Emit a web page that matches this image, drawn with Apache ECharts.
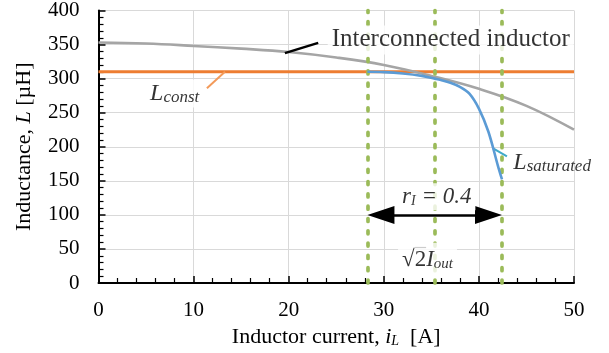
<!DOCTYPE html>
<html>
<head>
<meta charset="utf-8">
<script src="https://cdn.jsdelivr.net/npm/echarts@6/dist/echarts.min.js"></script>
<style>html,body{margin:0;padding:0;background:#fff}#c{width:609px;height:353px}</style>
</head>
<body>
<div id="c"></div>
<script>
// ---- data ----
const constCurrents = [0, 50];
const constInductance = [310, 310];
const interCurrents = [0, 5, 10, 15, 20, 25, 30, 35, 40, 45, 50];
const interInductance = [353, 351.5, 348, 344, 339, 331, 320, 304, 285, 260, 225];
const satCurrents = [28.28, 30, 32, 34, 35.36, 36, 37, 38, 39, 40, 41, 42, 42.43];
const satInductance = [310, 309.5, 307.5, 304, 300, 298, 294, 288, 278, 256, 222, 172, 152];
const rippleBounds = [28.28, 35.36, 42.43];   // (1-0.2)*sqrt2*Iout, sqrt2*Iout, (1+0.2)*sqrt2*Iout
const arrowLevel = 100;
const xTicks = [0, 10, 20, 30, 40, 50];
const yTicks = [0, 50, 100, 150, 200, 250, 300, 350, 400];
const xTitle = 'Inductor current, {i|i}{s|L}  [A]';
const yTitle = 'Inductance, {i|L} [µH]';

const FONT = '"Liberation Serif", "Times New Roman", serif';
const chart = echarts.init(document.getElementById('c'), null, {renderer: 'canvas'});

const zip = (a, b) => a.map((v, i) => [v, b[i]]);

const option = {
  animation: false,
  backgroundColor: '#fff',
  grid: {left: 98.5, right: 35, top: 10.5, bottom: 70, containLabel: false, outerBoundsMode: 'none'},
  xAxis: {
    type: 'value', min: xTicks[0], max: xTicks[xTicks.length - 1], interval: 10,
    name: xTitle, nameLocation: 'middle', nameGap: 40,
    nameTextStyle: {fontFamily: FONT, fontSize: 22, color: '#000',
      rich: {i: {fontFamily: FONT, fontSize: 22, fontStyle: 'italic', color: '#000'},
             s: {fontFamily: FONT, fontSize: 14, fontStyle: 'italic', color: '#000', verticalAlign: 'bottom', lineHeight: 12}}},
    axisLine: {show: true, lineStyle: {color: '#000', width: 2}},
    axisTick: {show: true, inside: true, length: 7, lineStyle: {color: '#000', width: 1.5}},
    minorTick: {show: true, splitNumber: 5, length: 5, lineStyle: {color: '#000', width: 1.2}},
    axisLabel: {fontFamily: FONT, fontSize: 21, color: '#000', margin: 17},
    splitLine: {show: true, lineStyle: {color: '#d9d9d9', width: 1}}
  },
  yAxis: {
    type: 'value', min: yTicks[0], max: yTicks[yTicks.length - 1], interval: 50,
    name: yTitle, nameLocation: 'middle', nameGap: 63, nameRotate: 90,
    nameTextStyle: {fontFamily: FONT, fontSize: 22, color: '#000',
      rich: {i: {fontFamily: FONT, fontSize: 22, fontStyle: 'italic', color: '#000'}}},
    axisLine: {show: true, lineStyle: {color: '#000', width: 2}},
    axisTick: {show: true, inside: true, length: 7, lineStyle: {color: '#000', width: 1.5}},
    minorTick: {show: true, splitNumber: 5, length: 5, lineStyle: {color: '#000', width: 1.2}},
    axisLabel: {fontFamily: FONT, fontSize: 21, color: '#000', margin: 19},
    splitLine: {show: true, lineStyle: {color: '#d9d9d9', width: 1}}
  },
  series: [
    {
      name: 'guides', type: 'line', data: [], z: 3, silent: true,
      markLine: {
        silent: true, symbol: ['none', 'none'], animation: false,
        label: {show: false},
        lineStyle: {color: '#9bbb59', width: 3.7, type: [3, 9.3], cap: 'round'},
        data: rippleBounds.map(v => ({xAxis: v}))
      }
    },
    {
      name: 'Lconst', type: 'line', data: zip(constCurrents, constInductance), z: 4,
      showSymbol: false, symbol: 'none',
      lineStyle: {color: '#ed7d31', width: 3}
    },
    {
      name: 'Interconnected', type: 'line', data: zip(interCurrents, interInductance), z: 4,
      showSymbol: false, symbol: 'none', smooth: 0.4,
      lineStyle: {color: '#a5a5a5', width: 2.6}
    },
    {
      name: 'Lsaturated', type: 'line', data: zip(satCurrents, satInductance), z: 5,
      showSymbol: false, symbol: 'none', smooth: 0.35,
      lineStyle: {color: '#5b9bd5', width: 2.6}
    },
    {
      name: 'labels', type: 'scatter', z: 10, silent: true,
      symbolSize: 0,
      label: {show: true, position: 'right', distance: 0, color: '#000',
        fontFamily: FONT, backgroundColor: '#fff', padding: [2, 4, 2, 4]},
      data: [
        {value: [24.1, 356.8], label: {formatter: 'Interconnected inductor', fontSize: 25}},
        {value: [5.0, 278], label: {formatter: '{L|L}{s|const}',
          rich: {L: {fontFamily: FONT, fontSize: 24, fontStyle: 'italic', color: '#000'},
                 s: {fontFamily: FONT, fontSize: 17, fontStyle: 'italic', color: '#000', verticalAlign: 'bottom', lineHeight: 14}}}},
        {value: [43.2, 176], label: {formatter: '{L|L}{s|saturated}', backgroundColor: 'transparent',
          rich: {L: {fontFamily: FONT, fontSize: 24, fontStyle: 'italic', color: '#000'},
                 s: {fontFamily: FONT, fontSize: 17, fontStyle: 'italic', color: '#000', verticalAlign: 'bottom', lineHeight: 14}}}},
        {value: [31.5, 126.7], label: {formatter: '{r|r}{s|I}{r| = 0.4}',
          rich: {r: {fontFamily: FONT, fontSize: 23, fontStyle: 'italic', color: '#000'},
                 s: {fontFamily: FONT, fontSize: 14, fontStyle: 'italic', color: '#000', verticalAlign: 'bottom', lineHeight: 12}}}},
        {value: [31.5, 35], label: {formatter: '{n|√2}{r|I}{s|out}', padding: [6, 4, 4, 4],
          rich: {n: {fontFamily: FONT, fontSize: 23, color: '#000'},
                 r: {fontFamily: FONT, fontSize: 23, fontStyle: 'italic', color: '#000'},
                 s: {fontFamily: FONT, fontSize: 15, fontStyle: 'italic', color: '#000', verticalAlign: 'bottom', lineHeight: 12}}}}
      ]
    },
    {
      name: 'arrows', type: 'line', data: [], z: 12, silent: true,
      markLine: {
        silent: true, animation: false, label: {show: false},
        symbol: ['none', 'none'],
        data: [
          [{coord: [rippleBounds[0] + 1.42, arrowLevel], symbol: 'triangle', symbolSize: [18, 27],
            lineStyle: {color: '#000', width: 2.5, type: 'solid'}},
           {coord: [rippleBounds[2] - 1.42, arrowLevel], symbol: 'triangle', symbolSize: [18, 27]}],
          [{coord: [19.6, 337.5], lineStyle: {color: '#000', width: 2.5, type: 'solid'}},
           {coord: [23.1, 352.5]}],
          [{coord: [11.4, 286], lineStyle: {color: '#f39a5a', width: 2, type: 'solid'}},
           {coord: [13.3, 310]}],
          [{coord: [41.45, 198], lineStyle: {color: '#3fa9c9', width: 2, type: 'solid'}},
           {coord: [42.95, 186]}],
          // vinculum of the square-root sign
          [{coord: [33.25, 51.8], lineStyle: {color: '#000', width: 1.2, type: 'solid'}},
           {coord: [34.45, 51.8]}]
        ]
      }
    }
  ]
};
chart.setOption(option);
</script>
</body>
</html>
